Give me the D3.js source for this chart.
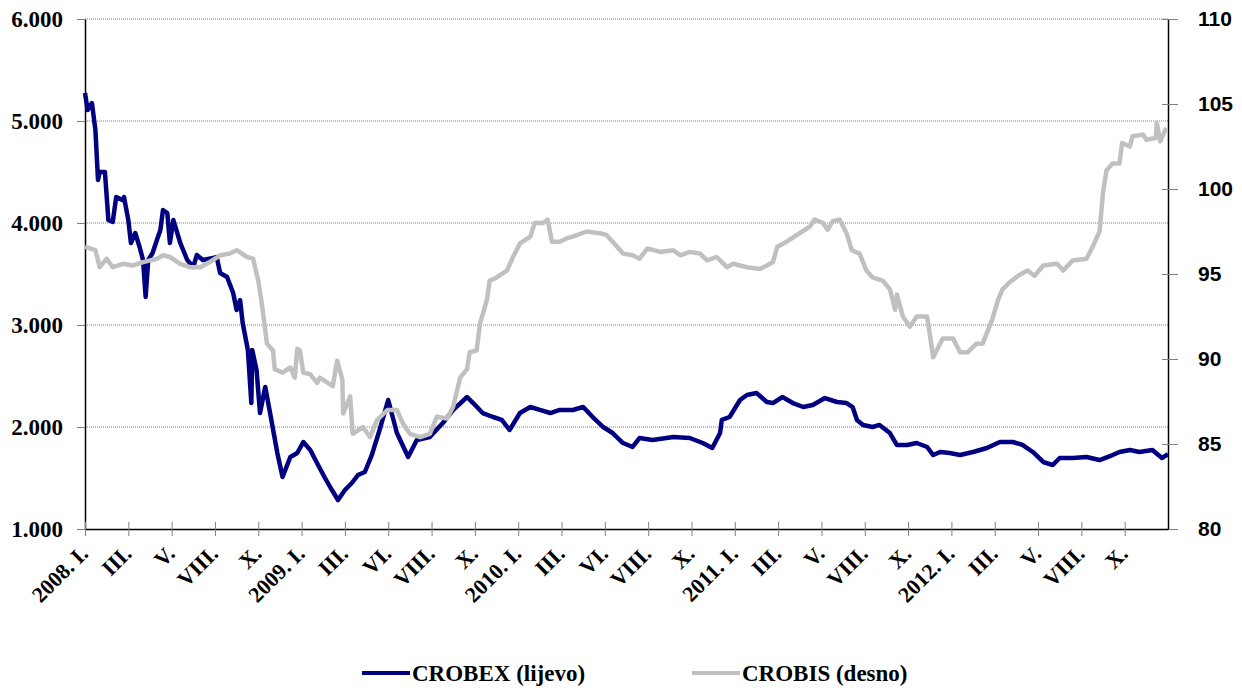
<!DOCTYPE html>
<html>
<head>
<meta charset="utf-8">
<script src="https://cdn.jsdelivr.net/npm/d3@7"></script>
<style>
  body { margin: 0; background: #fff; }
  svg { display: block; }
</style>
</head>
<body>
<script>
// trading-day index (50 per axis label) and index value
var crobexDays = [0,3,8,12,15,17,23,27,32,36,43,45,50,53,58,63,67,70,73,78,83,87,90,95,98,102,110,118,125,129,136,148,152,156,164,171,175,179,182,188,192,193,198,202,208,213,222,228,237,245,252,260,269,277,285,292,300,308,315,323,331,340,350,360,373,383,398,413,425,441,448,459,471,481,490,502,514,525,537,548,563,575,586,598,609,621,632,640,655,679,698,713,724,733,735,744,756,764,775,787,794,805,817,829,840,854,868,879,886,891,898,909,917,929,937,949,960,972,979,987,998,1010,1025,1041,1056,1071,1082,1094,1106,1117,1125,1140,1156,1171,1186,1194,1206,1217,1232,1243,1250];
var crobexValues = [5275,5108,5176,4912,4422,4500,4500,4029,4010,4255,4225,4255,4029,3804,3902,3765,3637,3275,3637,3706,3833,3931,4127,4098,3804,4029,3804,3637,3569,3686,3637,3657,3667,3510,3471,3314,3147,3245,3020,2755,2235,2755,2559,2137,2392,2167,1745,1510,1706,1745,1853,1775,1627,1500,1382,1284,1382,1451,1529,1559,1725,1971,2265,1941,1706,1873,1902,2039,2167,2294,2235,2137,2098,2069,1971,2137,2196,2167,2137,2167,2167,2196,2098,2000,1941,1843,1804,1892,1873,1902,1892,1843,1794,1941,2069,2098,2265,2314,2333,2245,2235,2294,2235,2196,2216,2284,2245,2235,2196,2069,2020,2000,2020,1941,1824,1824,1843,1804,1725,1755,1745,1725,1755,1794,1853,1853,1824,1755,1657,1627,1696,1696,1706,1676,1725,1755,1775,1755,1775,1696,1735];

var crobisDays = [0,12,17,25,32,44,55,67,83,90,98,110,121,133,144,156,167,175,187,194,200,204,210,217,219,228,237,242,245,248,252,260,268,271,286,291,297,298,306,309,321,329,337,349,360,367,375,387,398,406,418,425,433,441,444,452,456,464,467,475,487,494,502,514,519,529,534,539,548,556,563,579,594,602,609,621,632,640,649,664,679,687,698,710,718,729,741,748,764,779,787,794,799,810,825,837,842,852,857,863,871,879,885,894,902,909,921,929,935,937,944,952,960,972,979,990,1002,1010,1019,1029,1036,1047,1054,1059,1067,1077,1088,1096,1106,1122,1129,1140,1156,1163,1171,1175,1179,1186,1194,1197,1206,1209,1221,1225,1236,1237,1241,1248];
var crobisValues = [96.6,96.4,95.4,95.9,95.4,95.6,95.5,95.7,95.9,96.1,96.0,95.6,95.4,95.4,95.7,96.1,96.2,96.4,96.0,95.9,94.6,93.3,90.9,90.5,89.4,89.2,89.5,88.9,90.6,90.5,89.2,89.1,88.6,88.9,88.4,89.9,88.8,86.8,87.8,85.6,86.0,85.4,86.4,87.0,87.0,86.2,85.6,85.4,85.6,86.6,86.5,87.2,88.9,89.4,90.4,90.5,92.1,93.5,94.6,94.8,95.2,96.0,96.8,97.2,98.0,98.0,98.2,96.9,96.9,97.1,97.2,97.5,97.4,97.3,96.9,96.2,96.1,95.9,96.5,96.3,96.4,96.1,96.3,96.2,95.8,96.0,95.4,95.6,95.4,95.3,95.5,95.7,96.6,96.9,97.4,97.8,98.2,98.0,97.6,98.1,98.2,97.4,96.4,96.2,95.2,94.8,94.6,94.1,92.9,93.8,92.5,91.9,92.5,92.5,90.1,91.2,91.2,90.4,90.4,90.9,90.9,92.3,93.5,94.1,94.5,94.9,95.2,94.9,95.5,95.6,95.2,95.8,95.9,96.6,97.5,99.8,101.1,101.5,101.5,102.7,102.5,103.1,103.2,102.9,103.0,103.9,102.8,103.6];

var monthLabels = ["2008. I.","III.","V.","VIII.","X.","2009. I.","III.","VI.","VIII.","X.","2010. I.","III.","VI.","VIII.","X.","2011. I.","III.","V.","VIII.","X.","2012. I.","III.","V.","VIII.","X."];
var leftTicks = [1000,2000,3000,4000,5000,6000];
var rightTicks = [80,85,90,95,100,105,110];
var seriesNames = ["CROBEX (lijevo)","CROBIS (desno)"];
var seriesColors = ["#000080","#c0c0c0"];

var W = 1242, H = 690;
var plotLeft = 85, plotRight = 1168, plotTop = 19, plotBottom = 529;

var svg = d3.select('body').append('svg')
  .attr('width', W)
  .attr('height', H);

var x = d3.scaleLinear().domain([0, 1250]).range([plotLeft, plotRight]);
var yL = d3.scaleLinear().domain([1000, 6000]).range([plotBottom, plotTop]);
var yR = d3.scaleLinear().domain([80, 110]).range([plotBottom, plotTop]);

// dotted grid
svg.append('g').selectAll('line')
  .data(leftTicks.slice(1))
  .enter().append('line')
  .attr('x1', plotLeft).attr('x2', plotRight)
  .attr('y1', function(d) { return yL(d); })
  .attr('y2', function(d) { return yL(d); })
  .attr('stroke', '#808080')
  .attr('stroke-width', 1)
  .attr('stroke-dasharray', '1,1');

var serif = "'Liberation Serif','Times New Roman',serif";
var sans = "'Liberation Sans',Arial,sans-serif";

// left axis
var gL = svg.append('g').attr('transform', 'translate(' + plotLeft + ',0)')
  .call(d3.axisLeft(yL).tickValues(leftTicks).tickSize(8).tickSizeOuter(0).tickPadding(14)
    .tickFormat(function(d) { return d3.format(',')(d).replace(',', '.'); }));
gL.selectAll('text').attr('font-family', serif).attr('font-weight', 'bold').attr('font-size', 23).attr('fill', '#000');

// right axis
var gR = svg.append('g').attr('transform', 'translate(' + plotRight + ',0)')
  .call(d3.axisRight(yR).tickValues(rightTicks).tickSize(10).tickSizeOuter(0).tickPadding(20));
gR.selectAll('text').attr('font-family', sans).attr('font-weight', 'bold').attr('font-size', 21).attr('fill', '#000');
gR.selectAll('.tick line').attr('x1', -6);

// bottom axis
var gB = svg.append('g').attr('transform', 'translate(0,' + plotBottom + ')')
  .call(d3.axisBottom(x).tickValues(d3.range(0, 1201, 50)).tickSize(7).tickSizeOuter(0)
    .tickFormat(function(d, i) { return monthLabels[i]; }));
gB.selectAll('.tick line').attr('y1', -7);
gB.selectAll('text')
  .attr('font-family', serif).attr('font-weight', 'bold').attr('font-size', 22).attr('fill', '#000')
  .attr('text-anchor', 'end')
  .attr('dy', 0)
  .attr('y', 0)
  .attr('transform', 'translate(4,26) rotate(-45)');

[gL, gR, gB].forEach(function(g) {
  g.selectAll('.tick line').attr('stroke', '#808080');
  g.select('.domain').attr('stroke', '#000').attr('stroke-width', 1.5);
});

// series
var lineL = d3.line().x(function(d) { return x(d[0]); }).y(function(d) { return yL(d[1]); });
var lineR = d3.line().x(function(d) { return x(d[0]); }).y(function(d) { return yR(d[1]); });

svg.append('path')
  .datum(d3.zip(crobexDays, crobexValues))
  .attr('d', lineL)
  .attr('fill', 'none')
  .attr('stroke', seriesColors[0])
  .attr('stroke-width', 4.5)
  .attr('stroke-linejoin', 'round');

svg.append('path')
  .datum(d3.zip(crobisDays, crobisValues))
  .attr('d', lineR)
  .attr('fill', 'none')
  .attr('stroke', seriesColors[1])
  .attr('stroke-width', 4.5)
  .attr('stroke-linejoin', 'round');

// legend
var legendX = [362, 692];
var leg = svg.append('g').selectAll('g')
  .data(seriesNames)
  .enter().append('g')
  .attr('transform', function(d, i) { return 'translate(' + legendX[i] + ',673)'; });
leg.append('line')
  .attr('x1', 0).attr('x2', 48)
  .attr('stroke', function(d, i) { return seriesColors[i]; })
  .attr('stroke-width', 4);
leg.append('text')
  .attr('x', 50)
  .attr('y', 8)
  .attr('font-family', serif).attr('font-weight', 'bold').attr('font-size', 23)
  .text(function(d) { return d; });
</script>
</body>
</html>
